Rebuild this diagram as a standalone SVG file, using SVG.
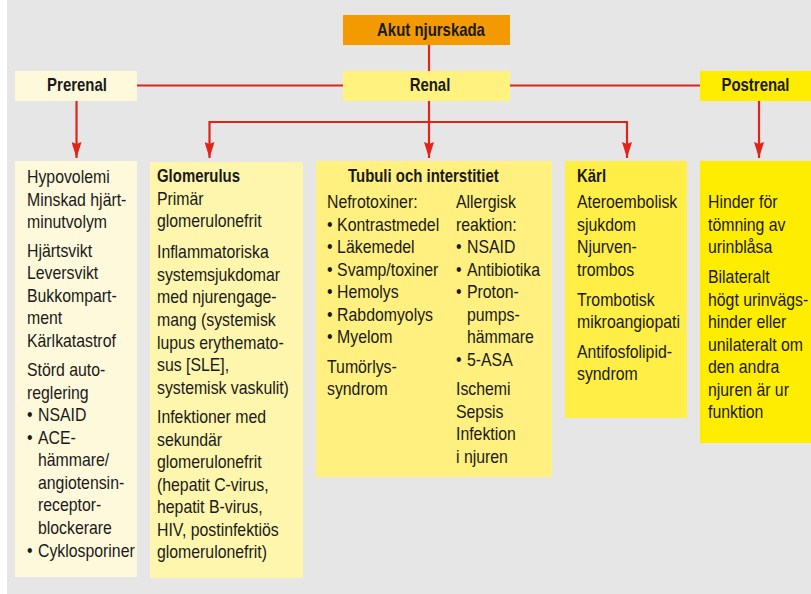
<svg xmlns="http://www.w3.org/2000/svg" width="811" height="594" viewBox="0 0 811 594">
<style>
text{font-family:"Liberation Sans",Arial,sans-serif;font-size:18px;fill:#1a1a1a}
.b{font-weight:bold}
.c{text-anchor:middle}
.ln{stroke:#e2231a;stroke-width:2.2;fill:none}
</style>
<defs>
<marker id="ah" viewBox="0 0 16 10" refX="16" refY="5" markerWidth="16" markerHeight="10" markerUnits="userSpaceOnUse" orient="auto">
<path d="M0,0 L16,5 L0,10 L2,5 z" fill="#e2231a"/>
</marker>
</defs>
<rect x="0" y="0" width="811" height="594" fill="#ffffff"/>
<rect x="7" y="0" width="804" height="594" fill="#e6e6e6"/>

<g id="connectors">
<line class="ln" x1="429" y1="45" x2="429" y2="71"/>
<line class="ln" x1="137" y1="85.5" x2="343" y2="85.5"/>
<line class="ln" x1="510" y1="85.5" x2="700" y2="85.5"/>
<line class="ln" x1="76.5" y1="101" x2="76.5" y2="158" marker-end="url(#ah)"/>
<line class="ln" x1="429" y1="101" x2="429" y2="158" marker-end="url(#ah)"/>
<path class="ln" d="M429,122 H209.5 V158" marker-end="url(#ah)"/>
<path class="ln" d="M429,122 H627 V158" marker-end="url(#ah)"/>
<line class="ln" x1="759" y1="101" x2="759" y2="158" marker-end="url(#ah)"/>
</g>

<g id="akut">
<rect x="343" y="15" width="167" height="30" fill="#f29a00"/>
<text class="b c" transform="translate(431,36) scale(0.83,1)">Akut njurskada</text>
</g>
<g id="prerenal">
<rect x="15" y="71" width="122" height="30" fill="#fff9dc"/>
<text class="b c" transform="translate(77,91) scale(0.83,1)">Prerenal</text>
</g>
<g id="renal">
<rect x="343" y="71" width="167" height="30" fill="#fff27f"/>
<text class="b c" transform="translate(430,91) scale(0.83,1)">Renal</text>
</g>
<g id="postrenal">
<rect x="700" y="71" width="111" height="30" fill="#ffed00"/>
<text class="b c" transform="translate(755.5,91) scale(0.83,1)">Postrenal</text>
</g>

<g id="prerenal-list">
<rect x="15" y="161" width="122" height="416" fill="#fff9dc"/>
<g transform="translate(27,0) scale(0.88,1)">
<text x="0" y="183.5">Hypovolemi</text>
<text x="0" y="206">Minskad hjärt-</text>
<text x="0" y="228.5">minutvolym</text>
<text x="0" y="257">Hjärtsvikt</text>
<text x="0" y="279.5">Leversvikt</text>
<text x="0" y="302">Bukkompart-</text>
<text x="0" y="324.5">ment</text>
<text x="0" y="347">Kärlkatastrof</text>
<text x="0" y="376.5">Störd auto-</text>
<text x="0" y="399">reglering</text>
<text x="0" y="421.5">•<tspan x="12.5">NSAID</tspan></text>
<text x="0" y="444">•<tspan x="12.5">ACE-</tspan></text>
<text x="12.5" y="466.5">hämmare/</text>
<text x="12.5" y="489">angiotensin-</text>
<text x="12.5" y="511.5">receptor-</text>
<text x="12.5" y="534">blockerare</text>
<text x="0" y="557">•<tspan x="12.5">Cyklosporiner</tspan></text>
</g>
</g>

<g id="glomerulus">
<rect x="150" y="162" width="153" height="416" fill="#fff6ad"/>
<text class="b" transform="translate(157,182) scale(0.83,1)">Glomerulus</text>
<g transform="translate(157,0) scale(0.88,1)">
<text x="0" y="205">Primär</text>
<text x="0" y="227.5">glomerulonefrit</text>
<text x="0" y="258">Inflammatoriska</text>
<text x="0" y="281">systemsjukdomar</text>
<text x="0" y="303.5">med njurengage-</text>
<text x="0" y="326.5">mang (systemisk</text>
<text x="0" y="349">lupus erythemato-</text>
<text x="0" y="371.5">sus [SLE],</text>
<text x="0" y="394">systemisk vaskulit)</text>
<text x="0" y="423">Infektioner med</text>
<text x="0" y="446">sekundär</text>
<text x="0" y="468.5">glomerulonefrit</text>
<text x="0" y="491">(hepatit C-virus,</text>
<text x="0" y="513.5">hepatit B-virus,</text>
<text x="0" y="536">HIV, postinfektiös</text>
<text x="0" y="558.5">glomerulonefrit)</text>
</g>
</g>

<g id="tubuli">
<rect x="316" y="161" width="236" height="316" fill="#fff07f"/>
<text class="b" transform="translate(348,182) scale(0.83,1)">Tubuli och interstitiet</text>
<g transform="translate(327,0) scale(0.88,1)">
<text x="0" y="208.5">Nefrotoxiner:</text>
<text x="0" y="231">•<tspan x="11.5">Kontrastmedel</tspan></text>
<text x="0" y="253.5">•<tspan x="11.5">Läkemedel</tspan></text>
<text x="0" y="276">•<tspan x="11.5">Svamp/toxiner</tspan></text>
<text x="0" y="298.5">•<tspan x="11.5">Hemolys</tspan></text>
<text x="0" y="321">•<tspan x="11.5">Rabdomyolys</tspan></text>
<text x="0" y="343.5">•<tspan x="11.5">Myelom</tspan></text>
<text x="0" y="373">Tumörlys-</text>
<text x="0" y="395.5">syndrom</text>
</g>
<g transform="translate(456,0) scale(0.88,1)">
<text x="0" y="208.5">Allergisk</text>
<text x="0" y="231">reaktion:</text>
<text x="0" y="253.5">•<tspan x="12.5">NSAID</tspan></text>
<text x="0" y="276">•<tspan x="12.5">Antibiotika</tspan></text>
<text x="0" y="298.5">•<tspan x="12.5">Proton-</tspan></text>
<text x="12.5" y="321">pumps-</text>
<text x="12.5" y="343.5">hämmare</text>
<text x="0" y="366">•<tspan x="12.5">5-ASA</tspan></text>
<text x="0" y="395.5">Ischemi</text>
<text x="0" y="418">Sepsis</text>
<text x="0" y="440.5">Infektion</text>
<text x="0" y="463">i njuren</text>
</g>
</g>

<g id="karl">
<rect x="565" y="161" width="122" height="257" fill="#ffee45"/>
<text class="b" transform="translate(577,182) scale(0.83,1)">Kärl</text>
<g transform="translate(577,0) scale(0.88,1)">
<text x="0" y="208.5">Ateroembolisk</text>
<text x="0" y="231">sjukdom</text>
<text x="0" y="253.5">Njurven-</text>
<text x="0" y="276">trombos</text>
<text x="0" y="306">Trombotisk</text>
<text x="0" y="328.5">mikroangiopati</text>
<text x="0" y="358">Antifosfolipid-</text>
<text x="0" y="380.5">syndrom</text>
</g>
</g>

<g id="postrenal-list">
<rect x="700" y="161" width="111" height="282" fill="#ffed00"/>
<g transform="translate(708,0) scale(0.88,1)">
<text x="0" y="208.5">Hinder för</text>
<text x="0" y="231">tömning av</text>
<text x="0" y="253.5">urinblåsa</text>
<text x="0" y="283.5">Bilateralt</text>
<text x="0" y="306">högt urinvägs-</text>
<text x="0" y="328.5">hinder eller</text>
<text x="0" y="351">unilateralt om</text>
<text x="0" y="373.5">den andra</text>
<text x="0" y="396">njuren är ur</text>
<text x="0" y="418.5">funktion</text>
</g>
</g>
</svg>
